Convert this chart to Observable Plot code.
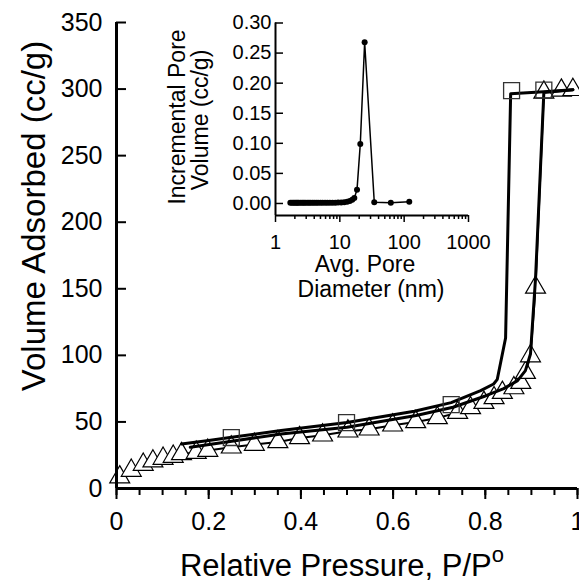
<!DOCTYPE html>
<html><head><meta charset="utf-8">
<script src="https://cdn.jsdelivr.net/npm/d3@7"></script>
<script src="https://cdn.jsdelivr.net/npm/@observablehq/plot@0.6"></script>
<style>
html,body{margin:0;padding:0;background:#fff;}
#wrap{position:relative;width:579px;height:580px;overflow:hidden;font-family:"Liberation Sans",Arial,sans-serif;}
#wrap svg{position:absolute;left:0;top:0;overflow:visible;}
</style></head><body><div id="wrap"></div>
<script>
// Adsorption points (triangles)
const adsP = [0.007,0.032,0.058,0.079,0.101,0.123,0.141,0.173,0.198,0.249,0.299,0.35,0.397,0.447,0.502,0.548,0.599,0.649,0.696,0.74,0.768,0.797,0.819,0.837,0.862,0.877,0.887,0.898,0.909,0.927,0.965,0.99];
const adsV = [8.5,13.5,18,20.5,22.5,24,26,27,28.5,31,33,35,38,40,43,44.5,47.5,50,53,57,60.5,64.5,68,72,75.5,79.5,87,99.5,151,297.5,299,299.5];
// Adsorption line
const adsLineP = [0.16,0.25,0.357,0.5,0.65,0.73,0.8,0.84,0.87,0.887,0.898,0.909,0.927,0.99];
const adsLineV = [31,35.5,41,46,54.8,61,69.5,75,81,88.5,101,158,297.5,299.5];
// Desorption line
const desLineP = [0.141,0.2,0.25,0.357,0.5,0.646,0.726,0.79,0.818,0.826,0.844,0.855,0.927,0.99];
const desLineV = [33.5,36,38.5,43.5,49.5,58,64.5,73.5,78.5,82,113,296.5,298,299.5];
// Desorption points (squares)
const desP = [0.249,0.499,0.726,0.857,0.927];
const desV = [38.3,49.5,63,298.8,299.3];
// Inset: pore size distribution
const poreD = [1.7,1.8,1.9,2.0,2.1,2.2,2.3,2.45,2.6,2.75,2.9,3.1,3.3,3.5,3.75,4.0,4.3,4.6,5.0,5.4,5.9,6.4,7.0,7.7,8.5,9.4,10.5,11.7,13.0,14.3,15.6,16.8,18.5,20.8,24.3,34.3,62,120];
const poreV = [0.001,0.001,0.001,0.001,0.001,0.001,0.001,0.001,0.001,0.001,0.001,0.001,0.001,0.001,0.001,0.001,0.001,0.001,0.0012,0.0012,0.0012,0.0012,0.0013,0.0013,0.0014,0.0015,0.0018,0.002,0.003,0.004,0.006,0.009,0.023,0.099,0.268,0.002,0.001,0.003];
// Ticks
const xTicks = [0,0.2,0.4,0.6,0.8,1];
const xTickLabels = ["0","0.2","0.4","0.6","0.8","1"];
const yTicks = [0,50,100,150,200,250,300,350];
const insetXTicks = [1,10,100,1000];
const insetXTickLabels = ["1","10","100","1000"];
const insetYTicks = [0,0.05,0.10,0.15,0.20,0.25,0.30];
const insetYTickLabels = ["0.00","0.05","0.10","0.15","0.20","0.25","0.30"];

const FONT = '"Liberation Sans", Arial, sans-serif';
const ads = adsP.map((p,i)=>({p, v: adsV[i]}));
const adsLine = adsLineP.map((p,i)=>({p, v: adsLineV[i]}));
const desLine = desLineP.map((p,i)=>({p, v: desLineV[i]}));
const des = desP.map((p,i)=>({p, v: desV[i]}));
const pore = poreD.map((d,i)=>({d, v: poreV[i]}));
const minorX = d3.range(0, 21).map(i => i*0.05);
const minorLog = [];
for (const dec of [1,10,100]) for (let k=2;k<=9;k++) minorLog.push(dec*k);

const main = Plot.plot({
  width: 579, height: 580,
  marginLeft: 116, marginRight: 2, marginTop: 22, marginBottom: 92,
  x: {domain: [0,1]},
  y: {domain: [0,350]},
  style: {fontFamily: FONT, fontSize: "25px", background: "transparent", color: "black"},
  marks: [
    Plot.axisX(minorX, {tickSize: 7, tickFormat: () => "", strokeWidth: 2, label: null}),
    Plot.axisX(xTicks, {tickSize: 11, tickPadding: 13, strokeWidth: 2, label: null, fontSize: 25,
      tickFormat: d => xTickLabels[xTicks.indexOf(d)]}),
    Plot.axisY(yTicks, {tickSize: -10, tickPadding: 24, strokeWidth: 2, label: null, fontSize: 25}),
    Plot.line(ads, {x: "p", y: "v", stroke: "black", strokeWidth: 2}),
    Plot.dot(ads, {x: "p", y: "v", symbol: "triangle", r: 7.4, fill: "white", stroke: "black", strokeWidth: 1.2}),
    Plot.line(adsLine, {x: "p", y: "v", stroke: "black", strokeWidth: 3}),
    Plot.line(desLine, {x: "p", y: "v", stroke: "black", strokeWidth: 3}),
    Plot.dot(des, {x: "p", y: "v", symbol: "square", r: 9, fill: "none", stroke: "#333", strokeWidth: 1.3}),
    Plot.ruleX([0], {stroke: "black", strokeWidth: 3}),
    Plot.ruleY([0], {stroke: "black", strokeWidth: 3})
  ]
});

const inset = Plot.plot({
  width: 579, height: 320,
  marginLeft: 275, marginRight: 111, marginTop: 22.5, marginBottom: 105,
  x: {type: "log", domain: [1,1000]},
  y: {domain: [-0.02, 0.30]},
  style: {fontFamily: FONT, fontSize: "20px", background: "transparent", color: "black"},
  marks: [
    Plot.axisX(minorLog, {tickSize: 4, tickFormat: () => "", strokeWidth: 1.5, label: null}),
    Plot.axisX(insetXTicks, {tickSize: 7, tickPadding: 12, strokeWidth: 1.5, label: null, fontSize: 20,
      tickFormat: d => insetXTickLabels[insetXTicks.indexOf(d)]}),
    Plot.axisY(insetYTicks, {tickSize: -8, tickPadding: 12, strokeWidth: 1.5, label: null, fontSize: 20,
      tickFormat: d => insetYTickLabels[insetYTicks.indexOf(d)]}),
    Plot.line(pore, {x: "d", y: "v", stroke: "black", strokeWidth: 1.5}),
    Plot.dot(pore, {x: "d", y: "v", r: 3, fill: "black"}),
    Plot.ruleX([1], {stroke: "black", strokeWidth: 2}),
    Plot.ruleY([-0.02], {stroke: "black", strokeWidth: 2})
  ]
});

const wrap = document.getElementById("wrap");
wrap.appendChild(main);
wrap.appendChild(inset);

// Axis titles
const ms = d3.select(main);
ms.append("text").attr("transform", "translate(45,216) rotate(-90)")
  .attr("text-anchor", "middle").attr("font-size", 33).attr("font-family", FONT).attr("fill", "black")
  .text("Volume Adsorbed (cc/g)");
const xt = ms.append("text").attr("x", 342).attr("y", 576)
  .attr("text-anchor", "middle").attr("font-size", 31).attr("font-family", FONT).attr("fill", "black");
xt.append("tspan").text("Relative Pressure, P/P");
xt.append("tspan").attr("dy", -14).attr("font-size", 22).text("o");

const is = d3.select(inset);
is.append("text").attr("transform", "translate(185,117) rotate(-90)")
  .attr("text-anchor", "middle").attr("font-size", 23).attr("font-family", FONT).attr("fill", "black")
  .text("Incremental Pore");
is.append("text").attr("transform", "translate(208,120) rotate(-90)")
  .attr("text-anchor", "middle").attr("font-size", 23).attr("font-family", FONT).attr("fill", "black")
  .text("Volume (cc/g)");
is.append("text").attr("x", 365).attr("y", 272)
  .attr("text-anchor", "middle").attr("font-size", 23).attr("font-family", FONT).attr("fill", "black")
  .text("Avg. Pore");
is.append("text").attr("x", 371).attr("y", 297)
  .attr("text-anchor", "middle").attr("font-size", 23).attr("font-family", FONT).attr("fill", "black")
  .text("Diameter (nm)");
</script></body></html>
